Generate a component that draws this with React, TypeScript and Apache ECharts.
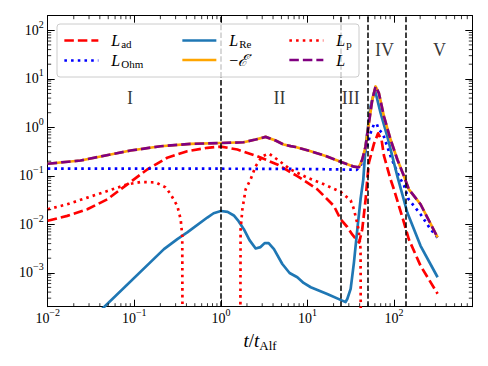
import React, { useEffect, useRef } from 'react';
import * as echarts from 'echarts';

const SERIF = "'Liberation Serif', 'DejaVu Serif', serif";

// ---------- data ----------
const lAdT = [0.01, 0.0168, 0.0287, 0.0488, 0.083, 0.141, 0.24, 0.409, 0.697, 1.0, 1.55, 2.63, 4.48, 7.63, 13.0, 20.2, 24.1, 28.8, 33, 37.6, 39.5, 42.9, 46.9, 49.0, 51.2, 58.4, 65.4, 71.7, 76.3, 91, 99.5, 130, 148, 202, 318];
const lAdV = [0.0118, 0.0149, 0.0204, 0.0328, 0.0666, 0.135, 0.236, 0.321, 0.378, 0.40, 0.348, 0.254, 0.171, 0.0986, 0.0526, 0.0239, 0.0127, 0.0088, 0.0061, 0.0046, 0.0042, 0.0079, 0.0328, 0.0844, 0.186, 0.45, 0.75, 0.55, 0.26, 0.0844, 0.0526, 0.0109, 0.0049, 0.0014, 0.00037];

const lOhmT = [0.01, 1.0, 10, 24.1, 37, 41.0, 44.8, 49.0, 53.5, 58.4, 62.9, 66.6, 72.9, 76.3, 91, 113.6, 130, 147, 202, 264, 318];
const lOhmV = [0.14, 0.14, 0.138, 0.135, 0.133, 0.158, 0.254, 0.407, 0.767, 1.14, 1.19, 0.897, 0.767, 0.641, 0.254, 0.0986, 0.0635, 0.0328, 0.0161, 0.0079, 0.0053];

const lReT = [0.04, 0.22, 0.314, 0.409, 0.697, 0.824, 1.0, 1.195, 1.41, 1.6, 1.84, 2.14, 2.52, 2.87, 3.2, 3.56, 4.1, 5.12, 6.21, 7.63, 9.02, 10.9, 16.9, 25.2, 27.5, 28.8, 31.5, 34.4, 37.6, 41.0, 44.1, 46.9, 53.5, 60.0, 69.8, 83.4, 109, 142, 202, 318];
const lReV = [0.000162, 0.00308, 0.00494, 0.00679, 0.0138, 0.0169, 0.0188, 0.018, 0.0152, 0.0116, 0.00793, 0.00472, 0.00318, 0.00339, 0.00409, 0.00409, 0.00308, 0.00152, 0.00099, 0.000809, 0.000618, 0.000504, 0.000367, 0.000267, 0.00025, 0.000288, 0.000465, 0.00164, 0.0079, 0.0328, 0.0844, 0.407, 2.70, 5.94, 1.98, 0.653, 0.0986, 0.0175, 0.0036, 0.00081];

const lT = [0.01, 0.024, 0.0408, 0.0906, 0.201, 0.447, 1.0, 1.83, 2.52, 3.28, 4.28, 5.3, 6.4, 7.29, 10.9, 16.2, 24.1, 34.4, 39.2, 42.9, 46.9, 51.2, 56.0, 61.1, 66.7, 76.3, 91, 109, 130, 148, 202, 318];
const lV = [0.177, 0.207, 0.25, 0.332, 0.407, 0.455, 0.474, 0.492, 0.559, 0.635, 0.533, 0.441, 0.41, 0.392, 0.321, 0.256, 0.195, 0.154, 0.15, 0.217, 0.407, 1.23, 3.71, 6.95, 5.09, 1.68, 0.559, 0.217, 0.0986, 0.0526, 0.0259, 0.00536];

// -dE/dt coincides with L
const eDotT = lT;
const eDotV = lV;

const lP1T = [0.01, 0.0168, 0.0287, 0.0488, 0.083, 0.118, 0.176, 0.23, 0.263, 0.314, 0.343, 0.358, 0.362];
const lP1V = [0.0204, 0.0259, 0.0355, 0.0485, 0.0666, 0.0743, 0.0732, 0.0578, 0.0415, 0.0239, 0.0127, 0.00578, 1e-6];
const lP2T = [1.667, 1.688, 1.77, 1.93, 2.2, 2.52, 3.01, 3.58, 4.48, 6.38, 9.95, 15.5, 24.1, 31.5, 34.4, 38.9, 41.0, 41.5];
const lP2V = [1e-6, 0.00786, 0.0204, 0.0525, 0.0841, 0.158, 0.254, 0.288, 0.217, 0.135, 0.0914, 0.0666, 0.0467, 0.0313, 0.0204, 0.0079, 0.0031, 1e-6];

const phaseLines = [1, 24, 50, 138];
const regionNames = ['I', 'II', 'III', 'IV', 'V'];
const regionT = [0.089, 4.76, 31.5, 77.7, 335];
const regionY = [3.98, 3.98, 4.1, 39.4, 39.4];

const xMin = 0.01, xMax = 800, yMin = 2e-4, yMax = 200;

// ---------- helpers ----------
const pairs = (t: number[], v: number[]) => t.map((x, i) => [x, v[i]]);

function minorTicks(lo: number, hi: number) {
  const out: number[] = [];
  for (let k = -6; k <= 4; k++) {
    for (let m = 2; m <= 9; m++) {
      const v = m * Math.pow(10, k);
      if (v > lo * 1.0001 && v < hi * 0.9999) out.push(v);
    }
  }
  return out;
}

function powLabel(v: number) {
  const e = Math.log10(v);
  const r = Math.round(e);
  if (Math.abs(e - r) > 1e-6) return '';
  return `{b|10}{e|${r < 0 ? '\u2212' : ''}${Math.abs(r)}}`;
}

const labelRich = {
  b: { fontFamily: SERIF, fontSize: 14, color: '#000' },
  e: { fontFamily: SERIF, fontSize: 10, color: '#000', padding: [0, 0, 12, 0] },
};

const legendRich = {
  i: { fontFamily: SERIF, fontStyle: 'italic', fontSize: 16, color: '#000', verticalAlign: 'top' },
  n: { fontFamily: SERIF, fontSize: 16, color: '#000', verticalAlign: 'top' },
  s: { fontFamily: SERIF, fontSize: 11, color: '#000', padding: [6, 0, 0, 1], verticalAlign: 'bottom' },
};

const legendText: Record<string, string> = {
  L_ad: '{i|L}{s|ad}',
  L_Ohm: '{i|L}{s|Ohm}',
  L_Re: '{i|L}{s|Re}',
  negE: '{n|\u2212}{i|\u2130\u0307}',
  L_p: '{i|L}{s|p}',
  L: '{i|L}',
};

const DASH = [9.5, 4];
const DOT = [2.6, 4.1];
const LW = 2.7;

function lineSeries(name: string, t: number[], v: number[], color: string, type: any) {
  return {
    type: 'line',
    name,
    data: pairs(t, v),
    symbol: 'none',
    showSymbol: false,
    clip: true,
    lineStyle: { color, width: LW, type, cap: 'butt', join: 'round' },
    itemStyle: { color },
    emphasis: { disabled: true },
    z: 2,
  };
}

function minorTickSeries(axis: 'x' | 'y') {
  const vals = axis === 'x' ? minorTicks(xMin, xMax) : minorTicks(yMin, yMax);
  return {
    type: 'custom',
    coordinateSystem: 'cartesian2d',
    silent: true,
    z: 3,
    data: vals.map((v) => (axis === 'x' ? [v, 1] : [1, v])),
    renderItem: (params: any, api: any) => {
      const cs = params.coordSys;
      const st = { stroke: '#000', lineWidth: 0.8 };
      if (axis === 'x') {
        const x = api.coord([api.value(0), 1])[0];
        const b = cs.y + cs.height;
        const t = cs.y;
        return {
          type: 'group',
          children: [
            { type: 'line', shape: { x1: x, y1: b, x2: x, y2: b - 3.5 }, style: st },
            { type: 'line', shape: { x1: x, y1: t, x2: x, y2: t + 3.5 }, style: st },
          ],
        };
      }
      const y = api.coord([1, api.value(1)])[1];
      const l = cs.x;
      const r = cs.x + cs.width;
      return {
        type: 'group',
        children: [
          { type: 'line', shape: { x1: l, y1: y, x2: l + 3.5, y2: y }, style: st },
          { type: 'line', shape: { x1: r, y1: y, x2: r - 3.5, y2: y }, style: st },
        ],
      };
    },
  };
}

const axisCommon = {
  axisLine: { show: true, onZero: false, lineStyle: { color: '#000', width: 1 } },
  axisTick: { show: true, inside: true, length: 7, lineStyle: { color: '#000', width: 1 } },
  splitLine: { show: false },
  minorTick: { show: false },
};

export default function App() {
  const ref = useRef<HTMLDivElement>(null);

  useEffect(() => {
    document.body.style.margin = '0';
    if (!ref.current) return;
    const chart = echarts.init(ref.current, undefined, { renderer: 'svg' });

    const legendBase = {
      orient: 'vertical',
      itemWidth: 34,
      itemHeight: 14,
      itemGap: 3,
      padding: 0,
      selectedMode: false,
      z: 10,
      itemStyle: { opacity: 0, borderWidth: 0 },
      lineStyle: { width: LW },
      formatter: (n: string) => legendText[n] || n,
      textStyle: { rich: legendRich, padding: [0, 0, 0, 8] },
    };

    const option: any = {
      animation: false,
      textStyle: { fontFamily: SERIF },
      grid: { left: 47.7, right: 15.7, top: 15.7, bottom: 59.3, show: false },
      xAxis: [
        {
          type: 'log',
          min: xMin,
          max: xMax,
          position: 'bottom',
          ...axisCommon,
          axisLabel: { formatter: powLabel, rich: labelRich, margin: 1, showMinLabel: true, showMaxLabel: true },
          name: '{i|t}{n|/}{i|t}{s|Alf}',
          nameLocation: 'middle',
          nameGap: 17,
          nameTextStyle: {
            rich: {
              i: { fontFamily: SERIF, fontStyle: 'italic', fontSize: 19, color: '#000', verticalAlign: 'top' },
              n: { fontFamily: SERIF, fontSize: 19, color: '#000', verticalAlign: 'top' },
              s: { fontFamily: SERIF, fontSize: 13, color: '#000', padding: [8, 0, 0, 0], verticalAlign: 'bottom' },
            },
          },
        },
        { type: 'log', min: xMin, max: xMax, position: 'top', ...axisCommon, axisLabel: { show: false } },
      ],
      yAxis: [
        {
          type: 'log',
          min: yMin,
          max: yMax,
          position: 'left',
          ...axisCommon,
          axisLabel: { formatter: powLabel, rich: labelRich, margin: 4, showMinLabel: true, showMaxLabel: true },
        },
        { type: 'log', min: yMin, max: yMax, position: 'right', ...axisCommon, axisLabel: { show: false } },
      ],
      legend: [
        { ...legendBase, data: ['L_ad', 'L_Ohm'], left: 63, top: 32 },
        { ...legendBase, data: ['L_Re', 'negE'], left: 181, top: 32 },
        { ...legendBase, data: ['L_p', 'L'], left: 288, top: 32 },
      ],
      graphic: [
        {
          type: 'rect',
          z: 8,
          silent: true,
          shape: { x: 57, y: 24, width: 302, height: 53, r: 3 },
          style: { fill: 'rgba(255,255,255,0.8)', stroke: '#cccccc', lineWidth: 1 },
        },
      ],
      series: [
        lineSeries('L_ad', lAdT, lAdV, '#ff0000', DASH),
        lineSeries('L_Ohm', lOhmT, lOhmV, '#0000ff', DOT),
        lineSeries('L_Re', lReT, lReV, '#1f77b4', 'solid'),
        lineSeries('negE', eDotT, eDotV, '#ffa500', 'solid'),
        lineSeries('L_p', lP1T, lP1V, '#ff0000', DOT),
        lineSeries('L_p', lP2T, lP2V, '#ff0000', DOT),
        lineSeries('L', lT, lV, '#800080', DASH),
        {
          type: 'line',
          data: [],
          z: 5,
          silent: true,
          markLine: {
            silent: true,
            symbol: ['none', 'none'],
            label: { show: false },
            lineStyle: { color: '#000', type: [5.5, 2.4], width: 1.5 },
            emphasis: { disabled: true },
            data: phaseLines.map((v) => ({ xAxis: v })),
          },
        },
        {
          type: 'scatter',
          symbolSize: 0,
          silent: true,
          z: 4,
          data: regionNames.map((n, i) => ({ name: n, value: [regionT[i], regionY[i]] })),
          label: {
            show: true,
            position: 'inside',
            formatter: '{b}',
            fontFamily: SERIF,
            fontSize: 18,
            color: '#000',
          },
        },
        minorTickSeries('x'),
        minorTickSeries('y'),
      ],
    };

    chart.setOption(option);
    return () => chart.dispose();
  }, []);

  return <div ref={ref} style={{ width: 488, height: 366 }} />;
}
